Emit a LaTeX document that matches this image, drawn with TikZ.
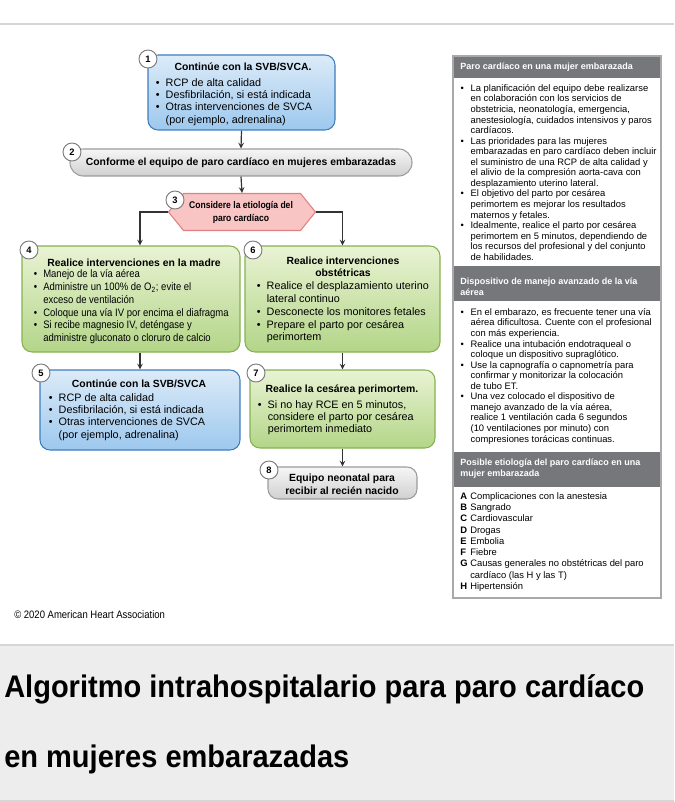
\documentclass[tikz,border=0pt]{standalone}
\usepackage{fontspec}
\setmainfont{Liberation Sans}
\newfontfamily\condfont[FakeStretch=0.88]{Liberation Sans}
\newfontfamily\headfont[FakeStretch=0.93]{Liberation Sans}
\usetikzlibrary{shapes.symbols,positioning}

\definecolor{bluetop}{HTML}{DCEBF8}
\definecolor{bluebot}{HTML}{9DC8EE}
\definecolor{blueline}{HTML}{3E7DBE}
\definecolor{greentop}{HTML}{E9F3D4}
\definecolor{greenbot}{HTML}{B3D588}
\definecolor{greenline}{HTML}{84B24F}
\definecolor{graytop}{HTML}{F6F6F6}
\definecolor{graybot}{HTML}{D0D0D0}
\definecolor{grayline}{HTML}{9B9B9B}
\definecolor{pinkfill}{HTML}{F8C4C4}
\definecolor{pinkline}{HTML}{E08080}
\definecolor{headgray}{HTML}{76777A}
\definecolor{panelline}{HTML}{A9A9A9}
\definecolor{bandgray}{HTML}{EDEDED}
\definecolor{rulegray}{HTML}{D6D6D6}
\definecolor{arrowgray}{HTML}{333333}

\newcommand{\flowtext}{\fontsize{8.1}{9.2}\selectfont}
\newcommand{\paneltext}{\fontsize{7.05}{7.92}\selectfont}
\newcommand{\bl}{\textbullet}

\tikzset{
  box/.style={draw, line width=0.8pt, rounded corners=7.5pt, inner sep=0pt},
  bluebox/.style={box, draw=blueline, top color=bluetop, bottom color=bluebot},
  greenbox/.style={box, draw=greenline, top color=greentop, bottom color=greenbot},
  graybox/.style={box, draw=grayline, top color=graytop, bottom color=graybot},
  numc/.style={circle, draw=grayline!80!black, fill=white, line width=0.7pt, minimum size=13.5pt, inner sep=0pt, font=\bfseries\fontsize{7}{8}\selectfont},
  boxtitle/.style={inner sep=0pt, align=center, font=\bfseries\fontsize{7.8}{9.4}\selectfont},
  blist/.style={anchor=north west, inner sep=0pt, font=\flowtext},
  plist/.style={anchor=north west, inner sep=0pt, font=\paneltext},
  phead/.style={anchor=west, inner sep=0pt, align=left, text=white, font=\bfseries\fontsize{6.75}{8.25}\selectfont},
  conn/.style={->, draw=arrowgray, line width=0.9pt}
}

\begin{document}
\begin{tikzpicture}[x=0.75pt, y=-0.75pt, >=stealth]
\useasboundingbox (0,0) rectangle (674,802);
% page rules and title band
\draw[rulegray, line width=1.5pt] (0,24) -- (674,24);
\fill[bandgray] (0,645) rectangle (674,802);
\draw[rulegray, line width=2pt] (0,645) -- (674,645);
\draw[rulegray, line width=1.5pt] (0,801) -- (674,801);

% flowchart boxes
\node[bluebox, minimum width=187*0.75pt, minimum height=75*0.75pt] (box1) at (241.5,92.5) {};
\node[graybox, rounded corners=10pt, minimum width=342*0.75pt, minimum height=27*0.75pt] (box2) at (241,162.5) {};
\node[signal, signal to=east and west, signal pointer angle=102, draw=pinkline, fill=pinkfill, line width=0.8pt,
      minimum width=147*0.75pt, minimum height=37*0.75pt, inner sep=0pt] (hex) at (242,212) {};
\node[greenbox, minimum width=218*0.75pt, minimum height=106*0.75pt] (box4) at (131,299) {};
\node[greenbox, minimum width=195*0.75pt, minimum height=106*0.75pt] (box6) at (342.5,299) {};
\node[bluebox, minimum width=200*0.75pt, minimum height=80*0.75pt] (box5) at (140,410) {};
\node[greenbox, minimum width=185*0.75pt, minimum height=78*0.75pt] (box7) at (342.5,409) {};
\node[graybox, minimum width=149*0.75pt, minimum height=32*0.75pt] (box8) at (342.5,483) {};

% connectors
\draw[conn] (box1.south) -- (box2.north);
\draw[conn] (box2.south) -- (hex.north);
\draw[conn] (hex.west) -| (box5.north |- box4.north);
\draw[conn] (hex.east) -| (box6.north);
\draw[conn] (box5.north |- box4.south) -- (box5.north);
\draw[conn] (box6.south) -- (box7.north);
\draw[conn] (box7.south) -- (box8.north);

% box texts
\node[boxtitle] (t1) at (243,66.7) {Continúe con la SVB/SVCA.};
\node[blist] (l1) at (155.7,77.5) {\begin{tabular}{@{}l@{\hspace{4.5pt}}l@{}}
  \bl & RCP de alta calidad\\
  \bl & Desfibrilación, si está indicada\\
  \bl & Otras intervenciones de SVCA\\
      & (por ejemplo, adrenalina)
\end{tabular}};
\node[boxtitle] (t2) at (241,162.5) {Conforme el equipo de paro cardíaco en mujeres embarazadas};
\node[boxtitle, font=\condfont\bfseries\fontsize{7.3}{9.2}\selectfont] (t3) at (241,212.5) {Considere la etiología del\\paro cardíaco};
\node[boxtitle] (t4) at (134,263) {Realice intervenciones en la madre};
\node[blist, font=\condfont\fontsize{8.1}{9.6}\selectfont] (l4) at (33.7,268.5) {\begin{tabular}{@{}l@{\hspace{4.5pt}}l@{}}
  \bl & Manejo de la vía aérea\\
  \bl & Administre un 100\% de O\textsubscript{2}; evite el\\
      & exceso de ventilación\\
  \bl & Coloque una vía IV por encima el diafragma\\
  \bl & Si recibe magnesio IV, deténgase y\\
      & administre gluconato o cloruro de calcio
\end{tabular}};
\node[boxtitle] (t6) at (343,267) {Realice intervenciones\\obstétricas};
\node[blist, font=\fontsize{8.1}{9.6}\selectfont] (l6) at (256.7,280.5) {\begin{tabular}{@{}l@{\hspace{4.5pt}}l@{}}
  \bl & Realice el desplazamiento uterino\\
      & lateral continuo\\
  \bl & Desconecte los monitores fetales\\
  \bl & Prepare el parto por cesárea\\
      & perimortem
\end{tabular}};
\node[boxtitle] (t5) at (139,384) {Continúe con la SVB/SVCA};
\node[blist] (l5) at (48.7,392.5) {\begin{tabular}{@{}l@{\hspace{4.5pt}}l@{}}
  \bl & RCP de alta calidad\\
  \bl & Desfibrilación, si está indicada\\
  \bl & Otras intervenciones de SVCA\\
      & (por ejemplo, adrenalina)
\end{tabular}};
\node[boxtitle] (t7) at (342,390) {Realice la cesárea perimortem.};
\node[blist] (l7) at (257.7,399.5) {\begin{tabular}{@{}l@{\hspace{4.5pt}}l@{}}
  \bl & Si no hay RCE en 5 minutos,\\
      & considere el parto por cesárea\\
      & perimortem inmediato
\end{tabular}};
\node[boxtitle] (t8) at (342,484.5) {Equipo neonatal para\\recibir al recién nacido};

% step numbers
\node[numc] (c1) at (148,59) {1};
\node[numc] (c2) at (72,152) {2};
\node[numc] (c3) at (175,200) {3};
\node[numc] (c4) at (29,250) {4};
\node[numc] (c5) at (41,373) {5};
\node[numc] (c6) at (253,250) {6};
\node[numc] (c7) at (256,373) {7};
\node[numc] (c8) at (269,470) {8};

% side panel
\fill[headgray] (453,56) rectangle (661,78);
\fill[headgray] (453,266) rectangle (661,301);
\fill[headgray] (453,452) rectangle (661,487);
\draw[panelline, line width=0.8pt] (453,56) rectangle (661,598);
\node[phead] (h1) at (460,67) {Paro cardíaco en una mujer embarazada};
\node[phead] (h2) at (460,286.5) {Dispositivo de manejo avanzado de la vía\\aérea};
\node[phead] (h3) at (460,469) {Posible etiología del paro cardíaco en una\\mujer embarazada};
\node[plist] (p1) at (460.4,83.7) {\begin{tabular}{@{}l@{\hspace{5pt}}l@{}}
  \bl & La planificación del equipo debe realizarse\\
      & en colaboración con los servicios de\\
      & obstetricia, neonatología, emergencia,\\
      & anestesiología, cuidados intensivos y paros\\
      & cardíacos.\\
  \bl & Las prioridades para las mujeres\\
      & embarazadas en paro cardíaco deben incluir\\
      & el suministro de una RCP de alta calidad y\\
      & el alivio de la compresión aorta-cava con\\
      & desplazamiento uterino lateral.\\
  \bl & El objetivo del parto por cesárea\\
      & perimortem es mejorar los resultados\\
      & maternos y fetales.\\
  \bl & Idealmente, realice el parto por cesárea\\
      & perimortem en 5 minutos, dependiendo de\\
      & los recursos del profesional y del conjunto\\
      & de habilidades.
\end{tabular}};
\node[plist] (p2) at (460.4,307.7) {\begin{tabular}{@{}l@{\hspace{5pt}}l@{}}
  \bl & En el embarazo, es frecuente tener una vía\\
      & aérea dificultosa. Cuente con el profesional\\
      & con más experiencia.\\
  \bl & Realice una intubación endotraqueal o\\
      & coloque un dispositivo supraglótico.\\
  \bl & Use la capnografía o capnometría para\\
      & confirmar y monitorizar la colocación\\
      & de tubo ET.\\
  \bl & Una vez colocado el dispositivo de\\
      & manejo avanzado de la vía aérea,\\
      & realice 1 ventilación cada 6 segundos\\
      & (10 ventilaciones por minuto) con\\
      & compresiones torácicas continuas.
\end{tabular}};
\node[plist, font=\fontsize{7.05}{8.44}\selectfont] (p3) at (460,491.2) {\begin{tabular}{@{}p{7.5pt}@{}l@{}}
  \textbf{A} & Complicaciones con la anestesia\\
  \textbf{B} & Sangrado\\
  \textbf{C} & Cardiovascular\\
  \textbf{D} & Drogas\\
  \textbf{E} & Embolia\\
  \textbf{F} & Fiebre\\
  \textbf{G} & Causas generales no obstétricas del paro\\
             & cardíaco (las H y las T)\\
  \textbf{H} & Hipertensión
\end{tabular}};

% footer
\node[anchor=west, inner sep=0pt, font=\condfont\fontsize{8.1}{9}\selectfont] (copy) at (14,615) {© 2020 American Heart Association};
\node[anchor=west, inner sep=0pt, align=left, font=\headfont\bfseries\fontsize{23.4}{52.5}\selectfont] (title) at (4,724) {Algoritmo intrahospitalario para paro cardíaco\\en mujeres embarazadas};
\end{tikzpicture}
\end{document}
